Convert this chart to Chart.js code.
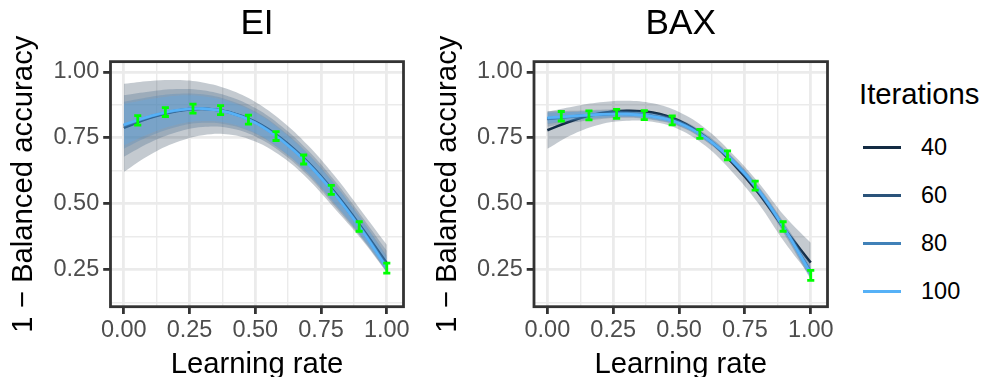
<!DOCTYPE html>
<html>
<head>
<meta charset="utf-8">
<script src="https://cdn.jsdelivr.net/npm/chart.js@4.4.1/dist/chart.umd.min.js"></script>
<style>
  body { margin: 0; width: 984px; height: 377px; overflow: hidden; background: #fff; position: relative;
         font-family: "Liberation Sans", Arial, Helvetica, sans-serif; }
  .panel { position: absolute; top: 0; width: 420px; height: 400px; }
  #panelEI { left: 0; }
  #panelBAX { left: 424px; }
  #legend { position: absolute; left: 0; top: 0; }
  .leg-title { position: absolute; left: 859px; top: 78.5px; font-size: 29.3px; line-height: 29.3px; white-space: nowrap; color: #000; }
  .leg-key { position: absolute; left: 863px; width: 38px; height: 2.6px; }
  .leg-label { position: absolute; left: 921px; font-size: 23.5px; line-height: 23.5px; color: #000; }
</style>
</head>
<body>
<div class="panel" id="panelEI"><canvas id="chartEI" width="420" height="400"></canvas></div>
<div class="panel" id="panelBAX"><canvas id="chartBAX" width="420" height="400"></canvas></div>
<div id="legend"></div>

<script>
// ---- data ----
const learningRate = [0, 0.1, 0.2, 0.3, 0.4, 0.5, 0.6, 0.7, 0.8, 0.9, 1.0];
const iterations = [40, 60, 80, 100];

// smoothed fits, one row per iteration count
const eiFit = [
  [0.788, 0.826, 0.851, 0.860, 0.848, 0.811, 0.747, 0.658, 0.546, 0.416, 0.275],
  [0.795, 0.829, 0.853, 0.861, 0.847, 0.809, 0.744, 0.655, 0.542, 0.411, 0.266],
  [0.798, 0.831, 0.854, 0.861, 0.846, 0.808, 0.742, 0.653, 0.540, 0.408, 0.260],
  [0.800, 0.832, 0.855, 0.861, 0.846, 0.807, 0.741, 0.652, 0.539, 0.407, 0.257]
];
const eiUpper = [
  [0.955, 0.966, 0.969, 0.960, 0.933, 0.886, 0.815, 0.722, 0.608, 0.478, 0.345],
  [0.912, 0.926, 0.935, 0.931, 0.907, 0.863, 0.794, 0.703, 0.590, 0.459, 0.322],
  [0.887, 0.905, 0.917, 0.915, 0.893, 0.850, 0.782, 0.691, 0.578, 0.447, 0.304],
  [0.878, 0.897, 0.910, 0.908, 0.887, 0.845, 0.777, 0.687, 0.574, 0.443, 0.295]
];
const eiLower = [
  [0.621, 0.686, 0.733, 0.760, 0.763, 0.736, 0.679, 0.594, 0.484, 0.370, 0.240],
  [0.678, 0.732, 0.771, 0.791, 0.787, 0.755, 0.694, 0.607, 0.494, 0.376, 0.242],
  [0.709, 0.757, 0.791, 0.807, 0.799, 0.766, 0.702, 0.615, 0.502, 0.380, 0.243],
  [0.722, 0.767, 0.800, 0.814, 0.805, 0.769, 0.705, 0.617, 0.504, 0.382, 0.244]
];

const baxFit = [
  [0.779, 0.817, 0.843, 0.853, 0.846, 0.815, 0.753, 0.658, 0.543, 0.405, 0.277],
  [0.822, 0.831, 0.839, 0.842, 0.833, 0.808, 0.752, 0.666, 0.552, 0.405, 0.243],
  [0.824, 0.832, 0.839, 0.841, 0.832, 0.807, 0.751, 0.666, 0.553, 0.406, 0.239],
  [0.826, 0.833, 0.839, 0.840, 0.831, 0.806, 0.751, 0.667, 0.554, 0.406, 0.236]
];
const baxUpper = [
  [0.849, 0.869, 0.885, 0.891, 0.881, 0.848, 0.786, 0.693, 0.583, 0.455, 0.352],
  [0.852, 0.853, 0.857, 0.858, 0.848, 0.822, 0.766, 0.681, 0.569, 0.426, 0.273],
  [0.846, 0.849, 0.853, 0.853, 0.843, 0.818, 0.762, 0.678, 0.566, 0.422, 0.261],
  [0.846, 0.848, 0.851, 0.851, 0.841, 0.816, 0.761, 0.678, 0.566, 0.421, 0.256]
];
const baxLower = [
  [0.709, 0.765, 0.801, 0.815, 0.811, 0.782, 0.720, 0.623, 0.503, 0.355, 0.225],
  [0.792, 0.809, 0.821, 0.826, 0.818, 0.794, 0.738, 0.651, 0.535, 0.384, 0.213],
  [0.802, 0.815, 0.825, 0.829, 0.821, 0.796, 0.740, 0.654, 0.540, 0.390, 0.217],
  [0.806, 0.818, 0.827, 0.829, 0.821, 0.796, 0.741, 0.656, 0.542, 0.391, 0.216]
];

// observed means with error bars
const pointRate = [0.053, 0.158, 0.263, 0.368, 0.474, 0.579, 0.684, 0.789, 0.895, 1.0];
const eiMean = [0.816, 0.848, 0.861, 0.855, 0.819, 0.757, 0.668, 0.553, 0.414, 0.256];
const eiErr  = [0.018, 0.017, 0.017, 0.017, 0.017, 0.017, 0.017, 0.017, 0.018, 0.019];
const baxMean = [0.832, 0.835, 0.841, 0.836, 0.816, 0.765, 0.684, 0.569, 0.414, 0.229];
const baxErr  = [0.018, 0.017, 0.017, 0.017, 0.017, 0.017, 0.017, 0.017, 0.018, 0.019];

// axis ticks
const xTicks = [0, 0.25, 0.5, 0.75, 1];
const xTickLabels = ['0.00', '0.25', '0.50', '0.75', '1.00'];
const xMinor = [0.125, 0.375, 0.625, 0.875];
const yTicks = [0.25, 0.5, 0.75, 1];
const yTickLabels = ['0.25', '0.50', '0.75', '1.00'];
const yMinor = [0.125, 0.375, 0.625, 0.875];

// ---- styles ----
const seriesColors = ['#132B43', '#2A537A', '#4081B8', '#56B1F7'];
const bandColors = ['rgba(19,43,67,0.25)', 'rgba(42,83,122,0.25)', 'rgba(64,129,184,0.25)', 'rgba(86,177,247,0.25)'];
const FONT = '"Liberation Sans", Arial, Helvetica, sans-serif';
const GRID = '#EBEBEB';
const DARK = '#333333';

Chart.defaults.font.family = FONT;

// green error bars drawn over the fits
const errorBarPlugin = {
  id: 'errorBars',
  afterDatasetsDraw(chart, args, opts) {
    const { ctx, scales: { x, y } } = chart;
    ctx.save();
    ctx.strokeStyle = '#00FF00';
    ctx.lineWidth = 2.8;
    opts.mean.forEach((m, i) => {
      const px = x.getPixelForValue(pointRate[i]);
      const x0 = x.getPixelForValue(pointRate[i] - 0.0135);
      const x1 = x.getPixelForValue(pointRate[i] + 0.0135);
      const yt = y.getPixelForValue(m + opts.err[i]);
      const yb = y.getPixelForValue(m - opts.err[i]);
      ctx.beginPath();
      ctx.moveTo(px, yt); ctx.lineTo(px, yb);
      ctx.moveTo(x0, yt); ctx.lineTo(x1, yt);
      ctx.moveTo(x0, yb); ctx.lineTo(x1, yb);
      ctx.stroke();
    });
    ctx.restore();
  }
};

// panel frame
const framePlugin = {
  id: 'frame',
  afterDraw(chart) {
    const { ctx, chartArea: a } = chart;
    ctx.save();
    ctx.strokeStyle = DARK;
    ctx.lineWidth = 2.8;
    ctx.strokeRect(a.left, a.top, a.right - a.left, a.bottom - a.top);
    ctx.restore();
  }
};

function buildDatasets(fit, lower, upper) {
  const ds = [];
  iterations.forEach((it, s) => {
    const pts = arr => learningRate.map((x, i) => ({ x, y: arr[i] }));
    const common = { pointRadius: 0, tension: 0.4 };
    ds.push({ ...common, label: it + ' upper', data: pts(upper[s]), borderWidth: 0,
              backgroundColor: bandColors[s], fill: 3 * s + 1, order: 8 - 2 * s });
    ds.push({ ...common, label: it + ' lower', data: pts(lower[s]), borderWidth: 0,
              fill: false, order: 9 });
    ds.push({ ...common, label: String(it), data: pts(fit[s]), borderWidth: 2.6,
              borderColor: seriesColors[s], fill: false, order: 7 - 2 * s });
  });
  return ds;
}

function tickSetter(major, minor) {
  return scale => {
    scale.ticks = major.concat(minor).sort((a, b) => a - b).map(v => ({ value: v }));
  };
}

function gridFor(major) {
  const isMajor = ctx => major.includes(ctx.tick && ctx.tick.value);
  return {
    color: GRID,
    lineWidth: ctx => isMajor(ctx) ? 2.8 : 1.4,
    drawTicks: true,
    tickLength: 7.3,
    tickWidth: 2.8,
    tickColor: ctx => isMajor(ctx) ? DARK : 'rgba(0,0,0,0)'
  };
}

function makePanel(canvasId, title, fit, lower, upper, mean, err) {
  return new Chart(document.getElementById(canvasId), {
    type: 'line',
    data: { datasets: buildDatasets(fit, lower, upper) },
    plugins: [errorBarPlugin, framePlugin],
    options: {
      responsive: false,
      animation: false,
      events: [],
      layout: { autoPadding: false, padding: { left: 0, right: 16.5, top: 0, bottom: 0 } },
      plugins: {
        legend: { display: false },
        tooltip: { enabled: false },
        title: {
          display: true, text: title, fullSize: false, color: '#000',
          font: { size: 35.2, weight: 'normal' },
          padding: { top: 3.4, bottom: 16 }
        },
        errorBars: { mean, err }
      },
      scales: {
        x: {
          type: 'linear', min: -0.0506, max: 1.0636,
          afterBuildTicks: tickSetter(xTicks, xMinor),
          afterFit: s => { s.height = 93.3; },
          grid: gridFor(xTicks),
          border: { display: false },
          ticks: {
            autoSkip: false, maxRotation: 0, minRotation: 0, padding: 2.4,
            color: '#4D4D4D', font: { size: 23.5 },
            callback: v => { const k = xTicks.indexOf(v); return k < 0 ? '' : xTickLabels[k]; }
          },
          title: {
            display: true, text: 'Learning rate', color: '#000',
            font: { size: 29.3 }, padding: { top: 0, bottom: 17.4 }
          }
        },
        y: {
          type: 'linear', min: 0.11, max: 1.039,
          afterBuildTicks: tickSetter(yTicks, yMinor),
          afterFit: s => { s.width = canvasId === 'chartEI' ? 110.5 : 110; },
          grid: gridFor(yTicks),
          border: { display: false },
          ticks: {
            autoSkip: false, padding: 4,
            color: '#4D4D4D', font: { size: 23.5 },
            callback: v => { const k = yTicks.indexOf(v); return k < 0 ? '' : yTickLabels[k]; }
          },
          title: {
            display: true, text: '1 − Balanced accuracy', color: '#000',
            font: { size: 29.3 }, padding: { top: 6, bottom: 0 }
          }
        }
      }
    }
  });
}

makePanel('chartEI', 'EI', eiFit, eiLower, eiUpper, eiMean, eiErr);
makePanel('chartBAX', 'BAX', baxFit, baxLower, baxUpper, baxMean, baxErr);

// legend for the colour scale
const legend = document.getElementById('legend');
legend.innerHTML = '<div class="leg-title">Iterations</div>';
iterations.forEach((it, s) => {
  const base = 156 + 48 * s;
  legend.innerHTML +=
    `<div class="leg-key" style="top:${base - 9.6}px;background:${seriesColors[s]}"></div>` +
    `<div class="leg-label" style="top:${base - 19.9}px">${it}</div>`;
});
</script>
</body>
</html>
